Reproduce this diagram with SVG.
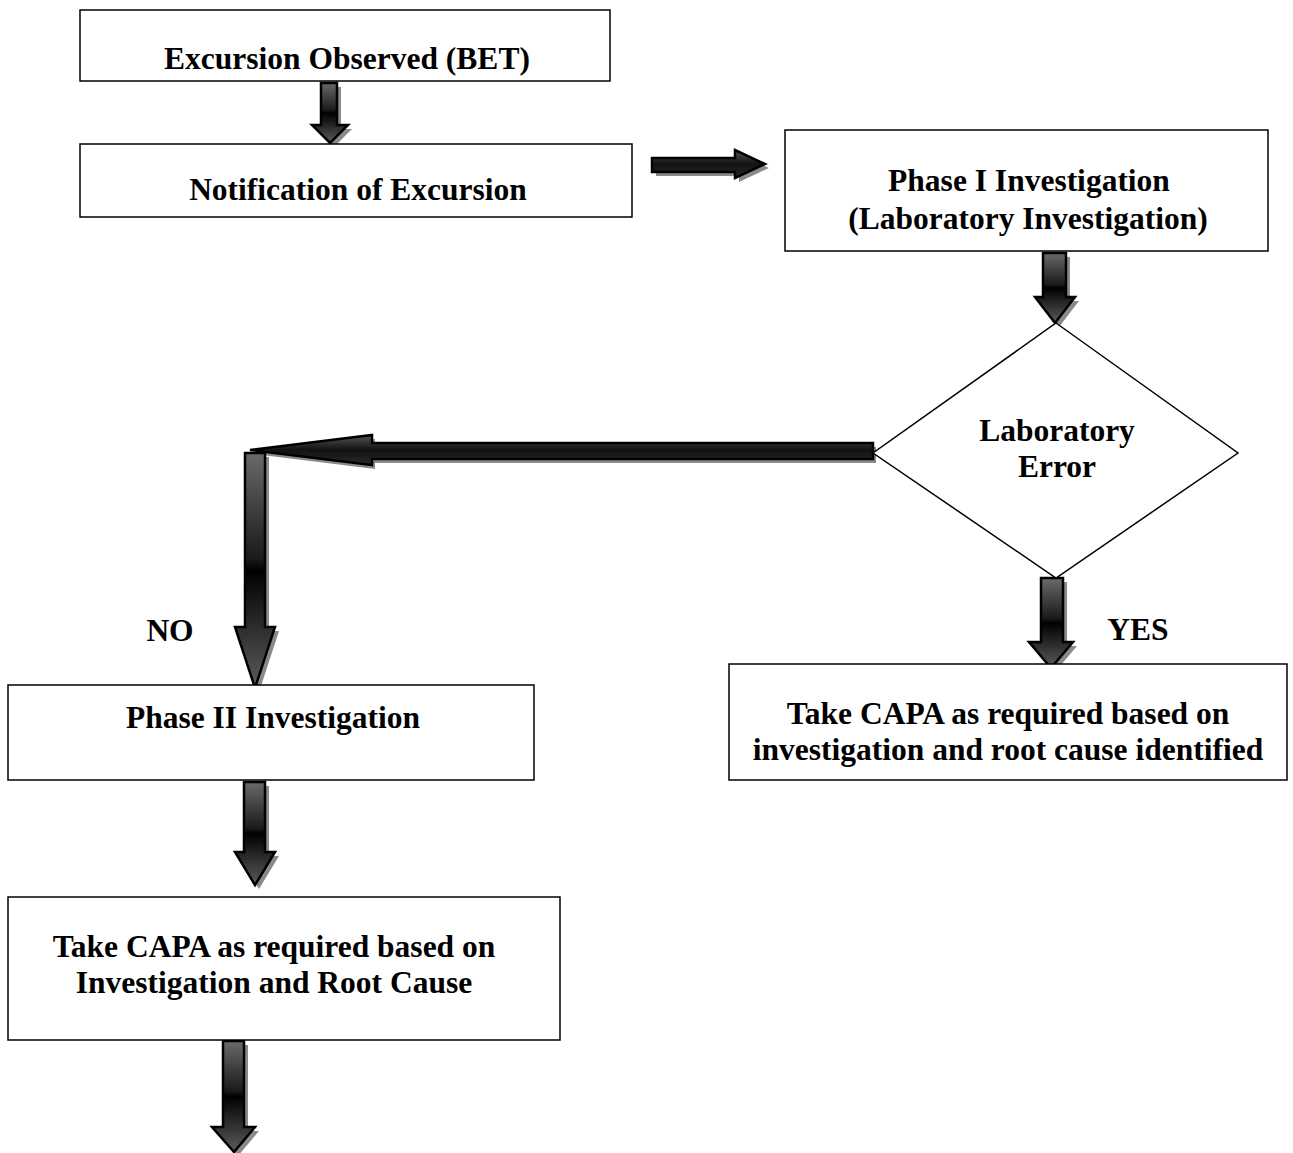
<svg xmlns="http://www.w3.org/2000/svg" width="1293" height="1153" viewBox="0 0 1293 1153">
<defs>
<linearGradient id="gv" x1="0" y1="0" x2="0" y2="1">
<stop offset="0" stop-color="#6a6a6a"/><stop offset="0.45" stop-color="#1a1a1a"/><stop offset="0.5" stop-color="#000"/><stop offset="1" stop-color="#5c5c5c"/>
</linearGradient>
<linearGradient id="gh" x1="0" y1="0" x2="0" y2="1">
<stop offset="0" stop-color="#555"/><stop offset="0.5" stop-color="#111"/><stop offset="1" stop-color="#2a2a2a"/>
</linearGradient>
</defs>
<style>
.box{fill:#fff;stroke:#000;stroke-width:1.5}
.t{font-family:"Liberation Serif","Times New Roman",serif;font-weight:bold;font-size:31.5px;text-anchor:middle;fill:#000}
.av{fill:url(#gv);stroke:#000;stroke-width:2.5;stroke-linejoin:miter}
.ah{fill:url(#gh);stroke:#000;stroke-width:2.5;stroke-linejoin:miter}
.sh{fill:#8a8a8a;stroke:none}
</style>
<rect width="1293" height="1153" fill="#fff"/>
<g id="connectors">
<path class="sh" transform="translate(4,4)" d="M321,83 H337 V125 H348 L330,143 L312,125 H321 Z"/>
<path class="av" d="M321,83 H337 V125 H348 L330,143 L312,125 H321 Z"/>
<path class="sh" transform="translate(4,4)" d="M652,158 H735 V150 L765,164 L735,178 V172 H652 Z"/>
<path class="ah" d="M652,158 H735 V150 L765,164 L735,178 V172 H652 Z"/>
<path class="sh" transform="translate(4,4)" d="M1043,253 H1066 V297 H1075 L1055,323 L1035,297 H1043 Z"/>
<path class="av" d="M1043,253 H1066 V297 H1075 L1055,323 L1035,297 H1043 Z"/>
<path class="sh" transform="translate(3,4)" d="M873,443 H372 V435 L250,450 L372,465 V459 H873 Z"/>
<path class="ah" d="M873,443 H372 V435 L250,450 L372,465 V459 H873 Z"/>
<path class="sh" transform="translate(4,4)" d="M245,453 H265 V627 H275 L255,688 L235,627 H245 Z"/>
<path class="av" d="M245,453 H265 V627 H275 L255,688 L235,627 H245 Z"/>
<path class="sh" transform="translate(4,4)" d="M1041,578 H1063 V642 H1073 L1051,668 L1029,642 H1041 Z"/>
<path class="av" d="M1041,578 H1063 V642 H1073 L1051,668 L1029,642 H1041 Z"/>
<path class="sh" transform="translate(4,4)" d="M244,782 H265 V852 H275 L255,885 L235,852 H244 Z"/>
<path class="av" d="M244,782 H265 V852 H275 L255,885 L235,852 H244 Z"/>
<path class="sh" transform="translate(4,4)" d="M223,1041 H244 V1127 H255 L234,1152 L212,1127 H223 Z"/>
<path class="av" d="M223,1041 H244 V1127 H255 L234,1152 L212,1127 H223 Z"/>
</g>
<g id="n1"><rect class="box" x="80" y="10" width="530" height="71"/><text class="t" x="347" y="69">Excursion Observed (BET)</text></g>
<g id="n2"><rect class="box" x="80" y="144" width="552" height="73"/><text class="t" x="358" y="200">Notification of Excursion</text></g>
<g id="n3"><rect class="box" x="785" y="130" width="483" height="121"/><text class="t" x="1029" y="191">Phase I Investigation</text><text class="t" x="1028" y="229">(Laboratory Investigation)</text></g>
<g id="n4"><polygon points="1056,323 1238,453 1056,578 873,453" fill="#fff" stroke="#000" stroke-width="1.5"/><text class="t" x="1057" y="441">Laboratory</text><text class="t" x="1057" y="477">Error</text></g>
<g id="lblNo"><text class="t" x="170" y="641">NO</text></g>
<g id="lblYes"><text class="t" x="1138" y="640">YES</text></g>
<g id="n5"><rect class="box" x="8" y="685" width="526" height="95"/><text class="t" x="273" y="728">Phase II Investigation</text></g>
<g id="n6"><rect class="box" x="729" y="664" width="558" height="116"/><text class="t" x="1008" y="724">Take CAPA as required based on</text><text class="t" x="1008" y="760">investigation and root cause identified</text></g>
<g id="n7"><rect class="box" x="8" y="897" width="552" height="143"/><text class="t" x="274" y="957">Take CAPA as required based on</text><text class="t" x="274" y="993">Investigation and Root Cause</text></g>
</svg>
